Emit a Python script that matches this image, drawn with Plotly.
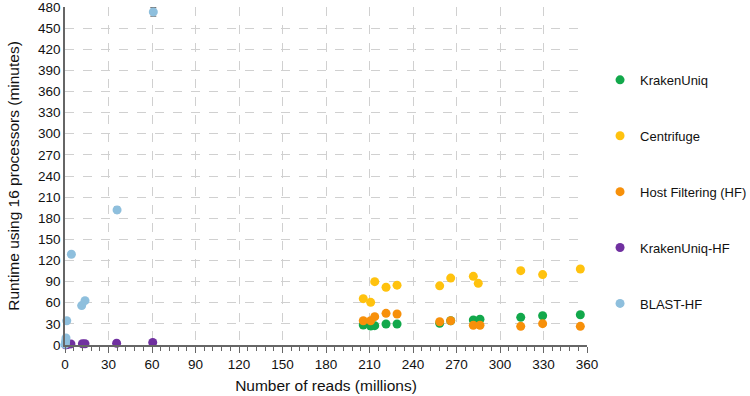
import plotly.graph_objects as go

# Number of reads (millions) and runtime (minutes)
kraken_x = [205.7, 210.8, 213.6, 221.4, 229.0, 258.4, 266.0, 281.6, 286.2, 314.3, 329.4, 355.4]
kraken_y = [28.4, 27.0, 27.5, 29.8, 29.8, 30.8, 34.5, 35.5, 36.5, 39.3, 41.6, 43.0]

centrifuge_x = [205.7, 210.8, 213.6, 221.4, 229.0, 258.4, 266.0, 281.6, 285.0, 314.3, 329.4, 355.4]
centrifuge_y = [65.8, 60.6, 90.0, 82.0, 85.0, 84.0, 95.0, 97.5, 87.6, 105.6, 100.0, 108.0]

hf_x = [205.7, 210.8, 213.6, 221.4, 229.0, 258.4, 266.0, 281.6, 286.2, 314.3, 329.4, 355.4]
hf_y = [34.5, 34.5, 40.2, 45.0, 44.0, 33.0, 34.5, 28.0, 28.0, 26.5, 30.3, 26.5]

krakenhf_x = [0.3, 1.0, 2.0, 4.1, 12.0, 13.8, 35.6, 60.5]
krakenhf_y = [0.3, 0.5, 0.8, 1.5, 1.8, 1.8, 2.5, 3.5]

blast_x = [0.1, 0.3, 0.5, 0.7, 1.2, 4.4, 11.5, 13.8, 35.9, 60.9]
blast_y = [1.0, 3.0, 6.0, 10.0, 34.5, 128.8, 56.0, 63.0, 191.8, 473.0]
blast_err = [0, 0, 0, 0, 0, 0, 0, 0, 4, 6]

series = [
    ("KrakenUniq", kraken_x, kraken_y, None, "#12A84B"),
    ("Centrifuge", centrifuge_x, centrifuge_y, None, "#FFC20E"),
    ("Host Filtering (HF)", hf_x, hf_y, None, "#F7900A"),
    ("KrakenUniq-HF", krakenhf_x, krakenhf_y, None, "#7030A0"),
    ("BLAST-HF", blast_x, blast_y, blast_err, "#8EBFDD"),
]

fig = go.Figure()
for i, (name, xs, ys, err, color) in enumerate(series):
    fig.add_trace(go.Scatter(
        x=xs, y=ys, mode="markers", name=name, legendgroup=name,
        marker=dict(size=9, color=color),
        error_y=dict(type="data", array=err, visible=err is not None,
                     color="#555555", thickness=1, width=3),
        cliponaxis=False,
    ))

font = "Arial, Liberation Sans, sans-serif"
fig.update_layout(
    width=750, height=396,
    margin=dict(l=65, r=163, t=7, b=51, autoexpand=False),
    plot_bgcolor="white", paper_bgcolor="white",
    font=dict(family=font, size=13, color="#111111"),
    legend=dict(x=1.025, xanchor="left", y=0.453, yanchor="middle",
                tracegroupgap=36, itemwidth=30,
                font=dict(size=13), bgcolor="rgba(0,0,0,0)"),
    xaxis=dict(
        range=[0, 360], dtick=30, tick0=0, showline=True, linecolor="#666666",
        linewidth=1.5, showgrid=True, gridcolor="#D0D0D0", griddash="dash",
        ticks="outside", ticklen=6, tickcolor="#666666", zeroline=False,
        minor=dict(dtick=6, ticks="outside", ticklen=4, tickcolor="#666666", showgrid=False),
        title=dict(text="Number of reads (millions)", font=dict(size=15.5), standoff=9),
        tickfont=dict(size=13.5), ticklabeloverflow="allow",
    ),
    yaxis=dict(
        range=[0, 480], dtick=30, tick0=0, showline=True, linecolor="#666666",
        linewidth=1.5, showgrid=True, gridcolor="#D0D0D0", griddash="dash",
        zeroline=False, ticks="",
        title=dict(text="Runtime using 16 processors (minutes)", font=dict(size=15.5), standoff=15),
        tickfont=dict(size=13.5), ticklabeloverflow="allow",
    ),
)
fig.write_html("out.html", config={"displayModeBar": False},
               post_script="document.body.style.margin='0';document.body.style.overflow='hidden';")
